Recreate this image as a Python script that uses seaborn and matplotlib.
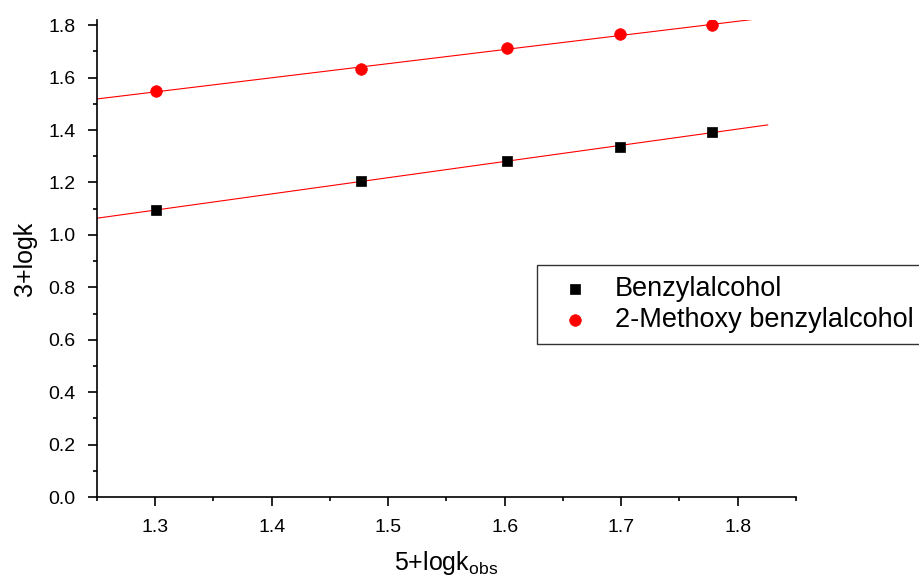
import numpy as np
import pandas as pd
import matplotlib
matplotlib.use("Agg")
import matplotlib.pyplot as plt
from matplotlib.ticker import MultipleLocator, FormatStrFormatter
import seaborn as sns

# 5+logk_obs values and 3+logk values
x_vals = [1.301, 1.477, 1.602, 1.699, 1.778]
benzyl = [1.095, 1.206, 1.281, 1.336, 1.394]
methoxy = [1.549, 1.633, 1.712, 1.765, 1.800]
series_names = ["Benzylalcohol", "2-Methoxy benzylalcohol"]

sns.set_style("ticks")
plt.rcParams["font.family"] = ["Liberation Sans", "DejaVu Sans"]
plt.rcParams["mathtext.fontset"] = "custom"
plt.rcParams["mathtext.rm"] = "Liberation Sans"
plt.rcParams["text.color"] = "black"
plt.rcParams["axes.labelcolor"] = "black"
plt.rcParams["xtick.color"] = "black"
plt.rcParams["ytick.color"] = "black"

df = pd.DataFrame({"x": x_vals, "benzyl": benzyl, "methoxy": methoxy})

fig = plt.figure(figsize=(9.2, 5.79), dpi=100)
ax = fig.add_axes([0.1054, 0.1416, 0.865 - 0.1054, 0.9655 - 0.1416])

# linear fits drawn across the plot
fit_x = np.array([1.25, 1.826])
for col in ["benzyl", "methoxy"]:
    slope, icpt = np.polyfit(df["x"], df[col], 1)
    fit_df = pd.DataFrame({"x": fit_x, "y": slope * fit_x + icpt})
    sns.lineplot(data=fit_df, x="x", y="y", color="red", linewidth=0.8, ax=ax, legend=False)

sns.scatterplot(data=df, x="x", y="benzyl", marker="s", s=60, color="black",
                edgecolor="black", linewidth=0.5, label=series_names[0], ax=ax, zorder=3)
sns.scatterplot(data=df, x="x", y="methoxy", marker="o", s=70, color="red",
                edgecolor="red", linewidth=0.5, label=series_names[1], ax=ax, zorder=3)

ax.set_xlim(1.25, 1.85)
ax.set_ylim(0.0, 1.82)
ax.xaxis.set_major_locator(MultipleLocator(0.1))
ax.xaxis.set_minor_locator(MultipleLocator(0.05))
ax.yaxis.set_major_locator(MultipleLocator(0.2))
ax.yaxis.set_minor_locator(MultipleLocator(0.1))
ax.xaxis.set_major_formatter(FormatStrFormatter("%.1f"))
ax.yaxis.set_major_formatter(FormatStrFormatter("%.1f"))
ax.tick_params(which="major", direction="out", length=6.5, width=1.2, labelsize=14, pad=9)
ax.tick_params(which="minor", direction="out", length=3, width=1.2)
sns.despine(ax=ax)
for sp in ["left", "bottom"]:
    ax.spines[sp].set_linewidth(1.2)
    ax.spines[sp].set_color("black")

ax.set_xlabel(r"5+logk$_{\mathregular{obs}}$", fontsize=18, labelpad=10)
ax.set_ylabel("3+logk", fontsize=18, labelpad=8)

leg = ax.legend(loc="upper left", bbox_to_anchor=(0.5837, 0.5423), bbox_transform=fig.transFigure,
                borderaxespad=0, fontsize=19.5, frameon=True, fancybox=False, edgecolor="black",
                handletextpad=0.45, borderpad=0.42, labelspacing=0.16, markerscale=1.0)
leg.get_frame().set_linewidth(1.0)

fig.savefig("out.png", dpi=100)
